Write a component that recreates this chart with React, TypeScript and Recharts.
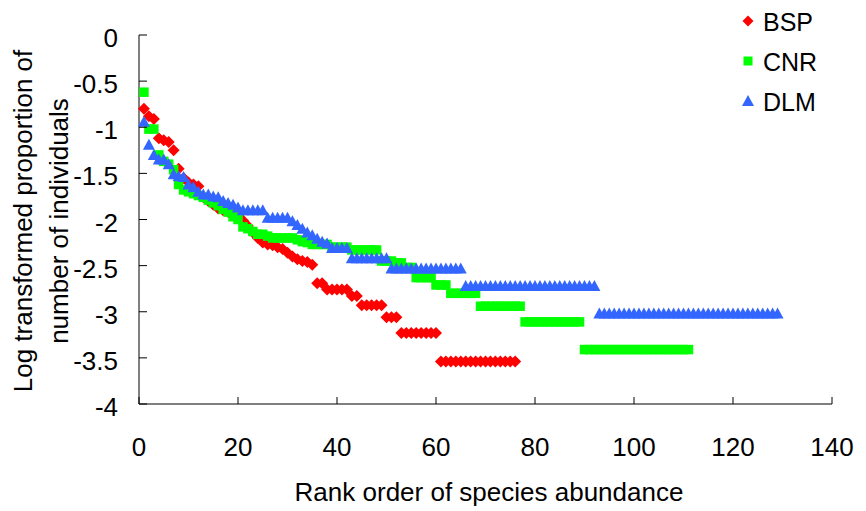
import { Legend, Scatter, ScatterChart, XAxis, YAxis } from 'recharts'

// log10 proportion of individuals, by rank (rank = index + 1)
const bspValues = [
  -0.8, -0.88, -0.91, -1.12, -1.14, -1.16, -1.25, -1.45, -1.55, -1.6,
  -1.62, -1.64, -1.76, -1.8, -1.84, -1.88, -1.9, -1.92, -1.95, -1.98,
  -2.01, -2.07, -2.14, -2.2, -2.25, -2.27, -2.28, -2.3, -2.32, -2.36,
  -2.4, -2.43, -2.45, -2.46, -2.49, -2.69, -2.69, -2.76, -2.76, -2.76,
  -2.76, -2.76, -2.83, -2.83, -2.93, -2.93, -2.93, -2.93, -2.93, -3.06,
  -3.06, -3.06, -3.23, -3.23, -3.23, -3.23, -3.23, -3.23, -3.23, -3.23,
  -3.54, -3.54, -3.54, -3.54, -3.54, -3.54, -3.54, -3.54, -3.54, -3.54,
  -3.54, -3.54, -3.54, -3.54, -3.54, -3.54,
]

const cnrValues = [
  -0.62, -1.02, -1.02, -1.3, -1.37, -1.4, -1.46, -1.62, -1.68, -1.7,
  -1.72, -1.74, -1.76, -1.79, -1.82, -1.85, -1.89, -1.92, -1.97, -2.0,
  -2.08, -2.1, -2.13, -2.16, -2.16, -2.18, -2.2, -2.2, -2.2, -2.2,
  -2.2, -2.22, -2.24, -2.25, -2.27, -2.27, -2.27, -2.27, -2.3, -2.3,
  -2.3, -2.3, -2.33, -2.33, -2.33, -2.33, -2.33, -2.33, -2.45, -2.45,
  -2.45, -2.47, -2.47, -2.52, -2.52, -2.63, -2.63, -2.63, -2.63, -2.71,
  -2.71, -2.71, -2.8, -2.8, -2.8, -2.8, -2.8, -2.8, -2.94, -2.94,
  -2.94, -2.94, -2.94, -2.94, -2.94, -2.94, -2.94, -3.11, -3.11, -3.11,
  -3.11, -3.11, -3.11, -3.11, -3.11, -3.11, -3.11, -3.11, -3.11, -3.41,
  -3.41, -3.41, -3.41, -3.41, -3.41, -3.41, -3.41, -3.41, -3.41, -3.41,
  -3.41, -3.41, -3.41, -3.41, -3.41, -3.41, -3.41, -3.41, -3.41, -3.41,
  -3.41,
]

const dlmValues = [
  -0.94, -1.19, -1.3, -1.35, -1.35, -1.4, -1.51, -1.53, -1.54, -1.62,
  -1.65, -1.7, -1.73, -1.73, -1.75, -1.76, -1.8, -1.82, -1.84, -1.87,
  -1.9, -1.9, -1.9, -1.9, -1.9, -1.98, -1.98, -1.98, -1.98, -1.98,
  -2.02, -2.06, -2.1, -2.14, -2.17, -2.21, -2.24, -2.26, -2.31, -2.31,
  -2.31, -2.31, -2.42, -2.42, -2.42, -2.42, -2.42, -2.42, -2.42, -2.42,
  -2.53, -2.53, -2.53, -2.53, -2.53, -2.53, -2.53, -2.53, -2.53, -2.53,
  -2.53, -2.53, -2.53, -2.53, -2.53, -2.72, -2.72, -2.72, -2.72, -2.72,
  -2.72, -2.72, -2.72, -2.72, -2.72, -2.72, -2.72, -2.72, -2.72, -2.72,
  -2.72, -2.72, -2.72, -2.72, -2.72, -2.72, -2.72, -2.72, -2.72, -2.72,
  -2.72, -2.72, -3.02, -3.02, -3.02, -3.02, -3.02, -3.02, -3.02, -3.02,
  -3.02, -3.02, -3.02, -3.02, -3.02, -3.02, -3.02, -3.02, -3.02, -3.02,
  -3.02, -3.02, -3.02, -3.02, -3.02, -3.02, -3.02, -3.02, -3.02, -3.02,
  -3.02, -3.02, -3.02, -3.02, -3.02, -3.02, -3.02, -3.02, -3.02,
]

const xTicks = [0, 20, 40, 60, 80, 100, 120, 140]
const yTicks = [0, -0.5, -1, -1.5, -2, -2.5, -3, -3.5, -4]

const RED = '#ff0000'
const GREEN = '#00ff00'
const BLUE = '#3366ff'
const FONT = '"Liberation Sans", Arial, sans-serif'

const toPoints = (vals: number[]) => vals.map((value, i) => ({ rank: i + 1, value }))

function diamond(cx: number, cy: number, r: number, fill: string) {
  return <polygon points={`${cx},${cy - r} ${cx + r},${cy} ${cx},${cy + r} ${cx - r},${cy}`} fill={fill} />
}
function square(cx: number, cy: number, s: number, fill: string) {
  return <rect x={cx - s / 2} y={cy - s / 2} width={s} height={s} fill={fill} />
}
function triangle(cx: number, cy: number, fill: string) {
  return <polygon points={`${cx},${cy - 6} ${cx + 6},${cy + 5} ${cx - 6},${cy + 5}`} fill={fill} />
}

const DiamondShape = (p: any) => diamond(p.cx, p.cy, 6, RED)
const SquareShape = (p: any) => square(p.cx, p.cy, 9.5, GREEN)
const TriangleShape = (p: any) => triangle(p.cx, p.cy, BLUE)

function XTick({ x, y, payload }: any) {
  return (
    <g>
      <line x1={x} x2={x} y1={y} y2={y - 7} stroke="#000" />
      <text x={x} y={y + 52} textAnchor="middle" fontSize={26} fontFamily={FONT} fill="#000">
        {payload.value}
      </text>
    </g>
  )
}

function YTick({ x, y, payload }: any) {
  return (
    <g>
      <line x1={x} x2={x + 8} y1={y} y2={y} stroke="#000" />
      <text x={x - 21} y={y + 12} textAnchor="end" fontSize={26} fontFamily={FONT} fill="#000">
        {payload.value}
      </text>
    </g>
  )
}

function LegendBox() {
  const items = [
    { name: 'BSP', y: 21, mark: diamond(748, 21, 5.5, RED) },
    { name: 'CNR', y: 61, mark: square(748, 61, 9, GREEN) },
    { name: 'DLM', y: 101, mark: triangle(748, 101, BLUE) },
  ]
  return (
    <svg width={866} height={120}>
      {items.map((it) => (
        <g key={it.name}>
          {it.mark}
          <text x={763} y={it.y + 10} fontSize={25} fontFamily={FONT} fill="#000">
            {it.name}
          </text>
        </g>
      ))}
    </svg>
  )
}

export default function App() {
  return (
    <div style={{ position: 'absolute', left: 0, top: 0, background: '#fff' }}>
      <ScatterChart width={866} height={511} margin={{ top: 35, right: 34, bottom: 57, left: 0 }}>
        <XAxis
          type="number"
          dataKey="rank"
          domain={[0, 140]}
          ticks={xTicks}
          interval={0}
          height={50}
          tickSize={0}
          tickMargin={0}
          tickLine={false}
          axisLine={{ stroke: '#000' }}
          tick={<XTick />}
          label={{
            content: () => (
              <text x={489} y={501} textAnchor="middle" fontSize={26} fontFamily={FONT} fill="#000">
                Rank order of species abundance
              </text>
            ),
          }}
        />
        <YAxis
          type="number"
          dataKey="value"
          domain={[-4, 0]}
          ticks={yTicks}
          interval={0}
          width={139}
          tickSize={0}
          tickMargin={0}
          tickLine={false}
          axisLine={{ stroke: '#000' }}
          tick={<YTick />}
          label={{
            content: () => (
              <g fontSize={26} fontFamily={FONT} fill="#000">
                <text x={32} y={221} textAnchor="middle" transform="rotate(-90, 32, 221)">
                  Log transformed proportion of
                </text>
                <text x={68} y={221} textAnchor="middle" transform="rotate(-90, 68, 221)">
                  number of individuals
                </text>
              </g>
            ),
          }}
        />
        <Scatter name="BSP" data={toPoints(bspValues)} fill={RED} shape={DiamondShape} isAnimationActive={false} />
        <Scatter name="CNR" data={toPoints(cnrValues)} fill={GREEN} shape={SquareShape} isAnimationActive={false} />
        <Scatter name="DLM" data={toPoints(dlmValues)} fill={BLUE} shape={TriangleShape} isAnimationActive={false} />
        <Legend
          layout="vertical"
          align="center"
          verticalAlign="middle"
          content={() => <LegendBox />}
          wrapperStyle={{ left: 0, top: 0, width: 866, height: 120 }}
        />
      </ScatterChart>
    </div>
  )
}
